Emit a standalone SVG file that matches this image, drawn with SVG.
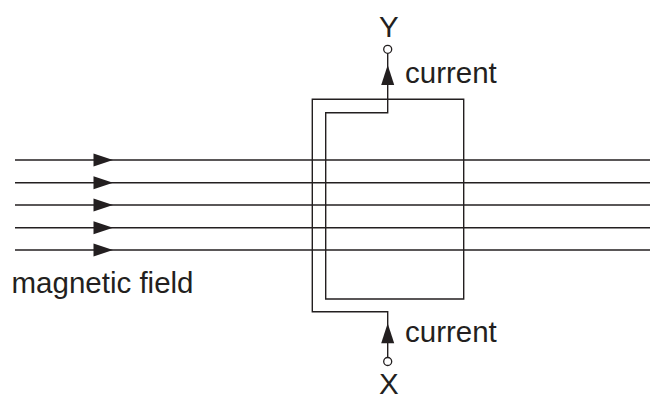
<svg xmlns="http://www.w3.org/2000/svg" width="650" height="396" viewBox="0 0 650 396">
  <style>
    .ln { stroke: #231f20; stroke-width: 1.4; fill: none; }
    .ah { fill: #231f20; stroke: none; }
    .term { fill: #ffffff; stroke: #231f20; stroke-width: 1.3; }
    .lbl { font-family: "Liberation Sans", Arial, sans-serif; font-size: 29.5px; fill: #231f20; }
  </style>
  <defs>
    <path id="rarrow" class="ah" d="M0,0 L-19.5,-6.5 L-19.5,6.5 Z"/>
    <path id="uarrow" class="ah" d="M0,0 L-6.5,20 L6.5,20 Z"/>
  </defs>
  <g id="connectors">
    <g id="field-lines">
      <line class="ln" x1="15" y1="160" x2="650" y2="160"/>
      <line class="ln" x1="15" y1="182.7" x2="650" y2="182.7"/>
      <line class="ln" x1="15" y1="205" x2="650" y2="205"/>
      <line class="ln" x1="15" y1="227.7" x2="650" y2="227.7"/>
      <line class="ln" x1="15" y1="250" x2="650" y2="250"/>
      <use href="#rarrow" x="113" y="160"/>
      <use href="#rarrow" x="113" y="182.7"/>
      <use href="#rarrow" x="113" y="205"/>
      <use href="#rarrow" x="113" y="227.7"/>
      <use href="#rarrow" x="113" y="250"/>
    </g>
    <g id="coil">
      <path class="ln" d="M387.7,53.3 L387.7,112.7 L325.7,112.7 L325.7,299 L463.7,299 L463.7,99.3 L312.3,99.3 L312.3,311.7 L387.7,311.7 L387.7,357.5"/>
      <use href="#uarrow" x="387.7" y="65"/>
      <use href="#uarrow" x="387.7" y="323.3"/>
    </g>
  </g>
  <g id="terminal-Y">
    <circle class="term" cx="387.7" cy="49.3" r="4"/>
    <text class="lbl" x="388.8" y="36.7" text-anchor="middle">Y</text>
  </g>
  <g id="terminal-X">
    <circle class="term" cx="387.7" cy="361.5" r="4"/>
    <text class="lbl" x="388.8" y="394" text-anchor="middle">X</text>
  </g>
  <g id="label-current-top">
    <text class="lbl" x="405" y="83.3">current</text>
  </g>
  <g id="label-current-bottom">
    <text class="lbl" x="405" y="342">current</text>
  </g>
  <g id="label-field">
    <text class="lbl" x="11.5" y="292.7">magnetic field</text>
  </g>
</svg>
